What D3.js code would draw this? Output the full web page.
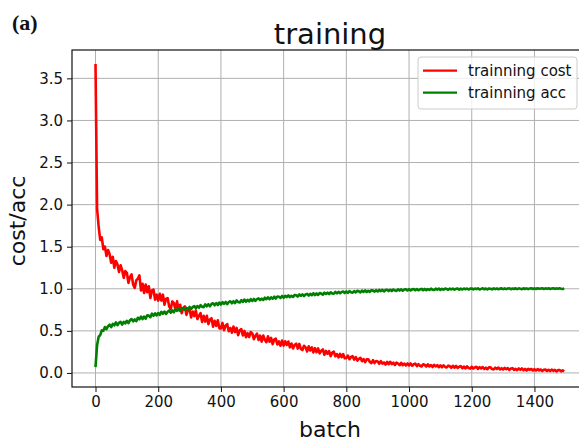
<!DOCTYPE html>
<html>
<head>
<meta charset="utf-8">
<script src="https://cdn.jsdelivr.net/npm/d3@7"></script>
<style>
  body { margin: 0; background: #fff; }
  svg { display: block; font-family: "DejaVu Sans", sans-serif; }
</style>
</head>
<body>
<div id="chart"></div>
<script>
var batchStep = 5;
var costValues = [
  3.67, 1.95, 1.74, 1.58, 1.61, 1.47, 1.50, 1.39, 1.46, 1.41, 1.31, 1.38, 1.25, 1.33, 1.29, 1.20, 1.28, 1.22, 1.13, 1.21,
  1.19, 1.07, 1.14, 1.17, 1.05, 1.01, 1.10, 1.12, 1.16, 0.98, 1.06, 0.95, 1.05, 0.96, 1.03, 0.89, 0.98, 0.99, 0.87, 0.93,
  0.86, 0.94, 0.86, 0.93, 0.81, 0.88, 0.89, 0.79, 0.76, 0.85, 0.83, 0.75, 0.85, 0.75, 0.81, 0.71, 0.77, 0.79, 0.69, 0.75,
  0.76, 0.66, 0.73, 0.675, 0.74, 0.64, 0.68, 0.71, 0.605, 0.68, 0.61, 0.68, 0.58, 0.635, 0.65, 0.55, 0.62, 0.56, 0.625, 0.53,
  0.53, 0.594, 0.508, 0.562, 0.581, 0.495, 0.534, 0.478, 0.552, 0.486, 0.535, 0.449, 0.508, 0.522, 0.446, 0.50, 0.424, 0.473, 0.427, 0.486,
  0.47, 0.401, 0.441, 0.467, 0.392, 0.443, 0.373, 0.444, 0.394, 0.365, 0.435, 0.371, 0.416, 0.342, 0.397, 0.408, 0.338, 0.374, 0.324, 0.385,
  0.325, 0.376, 0.332, 0.373, 0.304, 0.35, 0.291, 0.332, 0.348, 0.289, 0.345, 0.286, 0.272, 0.323, 0.304, 0.255, 0.316, 0.267, 0.303, 0.244,
  0.295, 0.246, 0.292, 0.233, 0.264, 0.28, 0.216, 0.262, 0.228, 0.259, 0.20, 0.241, 0.252, 0.198, 0.224, 0.185, 0.226, 0.187, 0.223, 0.174,
  0.175, 0.207, 0.163, 0.19, 0.199, 0.158, 0.188, 0.147, 0.168, 0.18, 0.139, 0.165, 0.128, 0.162, 0.163, 0.13, 0.117, 0.151, 0.118, 0.142,
  0.137, 0.109, 0.14, 0.111, 0.125, 0.10, 0.132, 0.104, 0.133, 0.105, 0.122, 0.095, 0.123, 0.112, 0.092, 0.121, 0.092, 0.111, 0.088, 0.113,
  0.09, 0.113, 0.086, 0.103, 0.111, 0.081, 0.104, 0.085, 0.077, 0.103, 0.094, 0.076, 0.103, 0.077, 0.094, 0.07, 0.097, 0.077, 0.093, 0.069,
  0.09, 0.067, 0.091, 0.071, 0.065, 0.087, 0.079, 0.061, 0.085, 0.063, 0.084, 0.06, 0.073, 0.081, 0.055, 0.076, 0.055, 0.078, 0.059, 0.052,
  0.074, 0.052, 0.066, 0.073, 0.048, 0.068, 0.053, 0.07, 0.047, 0.062, 0.044, 0.066, 0.067, 0.046, 0.042, 0.063, 0.048, 0.064, 0.041, 0.057,
  0.041, 0.06, 0.045, 0.058, 0.036, 0.053, 0.057, 0.035, 0.048, 0.033, 0.053, 0.037, 0.053, 0.032, 0.048, 0.029, 0.049, 0.036, 0.047, 0.027,
  0.046, 0.028, 0.046, 0.03, 0.041, 0.024, 0.037, 0.041, 0.023, 0.037, 0.022, 0.04, 0.025, 0.036, 0.018, 0.033, 0.035, 0.019, 0.03, 0.018
];
var accValues = [
  0.07, 0.33, 0.43, 0.45, 0.505, 0.50, 0.545, 0.52, 0.555, 0.573, 0.545, 0.582, 0.565, 0.60, 0.568, 0.595, 0.608, 0.573, 0.607, 0.588,
  0.62, 0.592, 0.625, 0.64, 0.613, 0.635, 0.615, 0.656, 0.637, 0.67, 0.64, 0.67, 0.645, 0.684, 0.681, 0.662, 0.705, 0.68, 0.707, 0.684,
  0.712, 0.689, 0.725, 0.703, 0.73, 0.701, 0.728, 0.742, 0.716, 0.743, 0.721, 0.759, 0.738, 0.76, 0.737, 0.764, 0.774, 0.751, 0.773, 0.756,
  0.784, 0.761, 0.782, 0.795, 0.767, 0.795, 0.775, 0.805, 0.787, 0.782, 0.815, 0.792, 0.817, 0.792, 0.819, 0.828, 0.804, 0.829, 0.807, 0.837,
  0.813, 0.841, 0.821, 0.843, 0.818, 0.842, 0.852, 0.828, 0.852, 0.83, 0.861, 0.842, 0.837, 0.864, 0.844, 0.872, 0.847, 0.869, 0.849, 0.877,
  0.855, 0.879, 0.857, 0.877, 0.886, 0.866, 0.882, 0.867, 0.894, 0.876, 0.899, 0.876, 0.898, 0.882, 0.906, 0.884, 0.909, 0.906, 0.891, 0.915,
  0.893, 0.917, 0.902, 0.922, 0.901, 0.917, 0.903, 0.927, 0.924, 0.908, 0.933, 0.915, 0.934, 0.914, 0.933, 0.939, 0.92, 0.94, 0.924, 0.947,
  0.925, 0.944, 0.927, 0.949, 0.943, 0.931, 0.954, 0.938, 0.954, 0.936, 0.958, 0.945, 0.941, 0.963, 0.945, 0.964, 0.947, 0.963, 0.968, 0.95,
  0.968, 0.951, 0.972, 0.959, 0.953, 0.973, 0.957, 0.976, 0.97, 0.958, 0.978, 0.963, 0.98, 0.962, 0.977, 0.963, 0.983, 0.978, 0.966, 0.984,
  0.968, 0.986, 0.972, 0.988, 0.969, 0.984, 0.989, 0.973, 0.987, 0.973, 0.991, 0.98, 0.975, 0.993, 0.979, 0.993, 0.977, 0.991, 0.995, 0.98,
  0.995, 0.98, 0.993, 0.997, 0.982, 0.996, 0.982, 0.993, 0.999, 0.984, 0.998, 0.984, 0.997, 0.986, 1.001, 0.989, 0.985, 1.001, 0.989, 1.002,
  0.987, 1.0, 0.99, 1.002, 0.997, 0.988, 1.002, 0.992, 1.003, 0.99, 0.999, 1.004, 0.99, 1.002, 0.991, 1.004, 0.994, 1.004, 0.991, 1.002,
  1.004, 0.992, 1.003, 0.996, 1.005, 0.991, 0.999, 1.005, 0.994, 1.003, 0.993, 1.004, 1.0, 0.993, 1.005, 0.995, 1.004, 0.994, 1.002, 1.005,
  0.995, 1.005, 0.996, 1.004, 1.006, 0.995, 1.003, 0.997, 1.006, 0.996, 1.005, 1.0, 0.995, 1.006, 0.998, 1.005, 0.996, 1.004, 1.006, 0.997,
  1.005, 0.997, 1.006, 0.999, 1.004, 1.007, 0.997, 1.005, 0.999, 1.006, 0.998, 1.003, 1.007, 0.998, 1.005, 0.999, 1.006, 1.001, 0.998, 1.005
];
var xTicks = [0, 200, 400, 600, 800, 1000, 1200, 1400];
var yTicks = [0, 0.5, 1.0, 1.5, 2.0, 2.5, 3.0, 3.5];
var seriesNames = ["trainning cost", "trainning acc"];
var seriesColors = ["#ff0000", "#008000"];

var width = 579, height = 441;
var plotLeft = 72, plotTop = 50, plotRight = 589, plotBottom = 387;

var svg = d3.select("#chart").append("svg")
    .attr("width", width)
    .attr("height", height);

var x = d3.scaleLinear().domain([-75, 1574]).range([plotLeft, plotRight]);
var y = d3.scaleLinear().domain([-0.167, 3.837]).range([plotBottom, plotTop]);

svg.append("defs").append("clipPath").attr("id", "clip")
  .append("rect")
    .attr("x", plotLeft).attr("y", plotTop)
    .attr("width", plotRight - plotLeft).attr("height", plotBottom - plotTop);

// grid
svg.append("g").selectAll("line").data(xTicks).enter().append("line")
    .attr("x1", function(d) { return x(d); }).attr("x2", function(d) { return x(d); })
    .attr("y1", plotTop).attr("y2", plotBottom)
    .attr("stroke", "#b0b0b0").attr("stroke-width", 1);
svg.append("g").selectAll("line").data(yTicks).enter().append("line")
    .attr("x1", plotLeft).attr("x2", plotRight)
    .attr("y1", function(d) { return y(d); }).attr("y2", function(d) { return y(d); })
    .attr("stroke", "#b0b0b0").attr("stroke-width", 1);

// lines
var line = d3.line()
    .x(function(d, i) { return x(i * batchStep); })
    .y(function(d) { return y(d); });

var lines = svg.append("g").attr("clip-path", "url(#clip)");
[costValues, accValues].forEach(function(vals, k) {
    lines.append("path")
        .datum(vals)
        .attr("d", line)
        .attr("fill", "none")
        .attr("stroke", seriesColors[k])
        .attr("stroke-width", 2.6)
        .attr("stroke-linejoin", "round");
});

// axes
var xAxis = svg.append("g")
    .attr("transform", "translate(0," + plotBottom + ")")
    .call(d3.axisBottom(x).tickValues(xTicks).tickFormat(d3.format("d")).tickSize(5).tickPadding(4));
var yAxis = svg.append("g")
    .attr("transform", "translate(" + plotLeft + ",0)")
    .call(d3.axisLeft(y).tickValues(yTicks).tickFormat(d3.format(".1f")).tickSize(5).tickPadding(4));
[xAxis, yAxis].forEach(function(a) {
    a.select(".domain").remove();
    a.selectAll("text").attr("font-size", 15).attr("font-family", "DejaVu Sans").attr("fill", "#111");
    a.selectAll("line").attr("stroke", "#111");
});

// spines
svg.append("rect")
    .attr("x", plotLeft).attr("y", plotTop)
    .attr("width", plotRight - plotLeft).attr("height", plotBottom - plotTop)
    .attr("fill", "none").attr("stroke", "#111").attr("stroke-width", 1.2);

// titles
svg.append("text")
    .attr("x", 330).attr("y", 44)
    .attr("text-anchor", "middle")
    .attr("font-size", 29).attr("fill", "#111")
    .text("training");
svg.append("text")
    .attr("x", 330).attr("y", 437)
    .attr("text-anchor", "middle")
    .attr("font-size", 22).attr("fill", "#111")
    .text("batch");
svg.append("text")
    .attr("transform", "translate(25,221) rotate(-90)")
    .attr("text-anchor", "middle")
    .attr("font-size", 22).attr("fill", "#111")
    .text("cost/acc");
svg.append("text")
    .attr("x", 12).attr("y", 30)
    .style("font-family", "'Liberation Serif', 'Times New Roman', serif")
    .style("font-weight", "bold")
    .attr("font-size", 22).attr("fill", "#111")
    .text("(a)");

// legend
var legend = svg.append("g");
legend.append("rect")
    .attr("x", 418).attr("y", 57).attr("width", 159).attr("height", 52)
    .attr("rx", 3)
    .attr("fill", "#fff").attr("fill-opacity", 0.8)
    .attr("stroke", "#cccccc");
seriesNames.forEach(function(name, i) {
    var ly = 70.7 + i * 22;
    legend.append("line")
        .attr("x1", 423).attr("x2", 457).attr("y1", ly).attr("y2", ly)
        .attr("stroke", seriesColors[i]).attr("stroke-width", 2.2);
    legend.append("text")
        .attr("x", 468).attr("y", ly + 5.3)
        .attr("font-size", 15).attr("fill", "#111")
        .text(name);
});
</script>
</body>
</html>
